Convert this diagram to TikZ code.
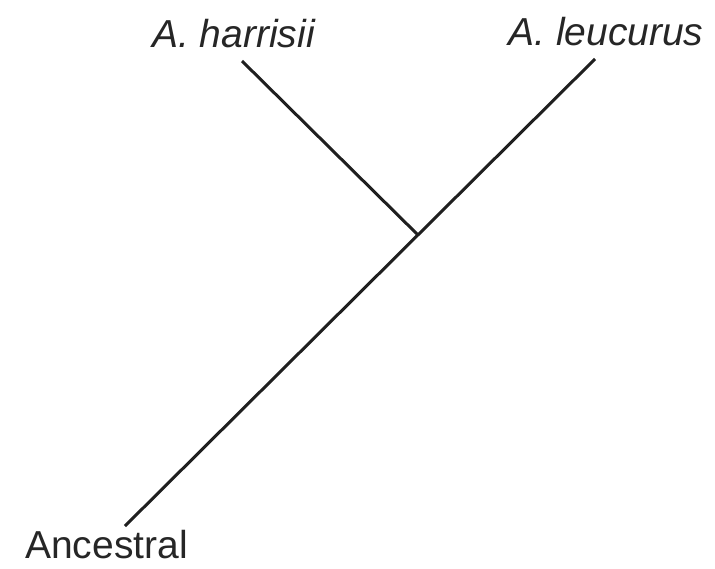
\documentclass[tikz,border=0pt]{standalone}
\usepackage{fontspec}
\setmainfont{Liberation Sans}
\begin{document}
\begin{tikzpicture}[x=1pt,y=-1pt,
  taxon/.style={anchor=base,inner sep=0pt,text=black!85,font=\fontsize{39}{44}\selectfont},
  branch/.style={line width=3pt,draw=black!88}]
\useasboundingbox (0,0) rectangle (715,568);
\node[taxon] (harr) at (233.5,47) {\itshape A. harrisii};
\node[taxon] (leuc) at (606,45) {\itshape A. leucurus};
\node[taxon] (anc) at (106.5,558) {Ancestral};
\coordinate (root) at (125,526);
\coordinate (leucend) at (595,59);
\coordinate (harrend) at (242,61);
\coordinate (junc) at (418,235);
\draw[branch] (root) -- (leucend);
\draw[branch] (harrend) -- (junc);
\end{tikzpicture}
\end{document}
